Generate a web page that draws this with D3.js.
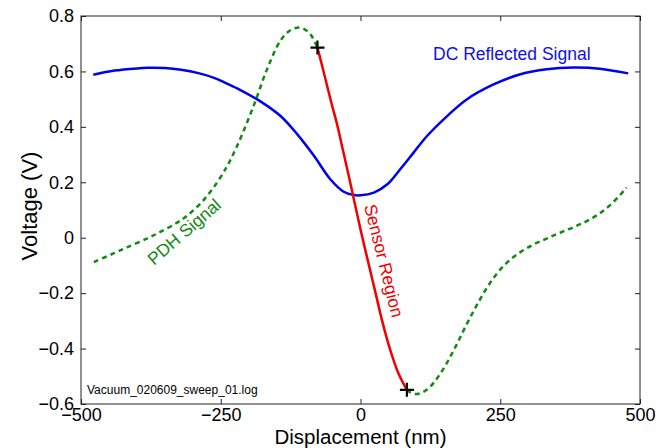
<!DOCTYPE html>
<html>
<head>
<meta charset="utf-8">
<script src="https://cdn.jsdelivr.net/npm/d3@7"></script>
<style>
  body { margin: 0; background: #fff; }
  text { font-family: "Liberation Sans", Arial, Helvetica, sans-serif; }
</style>
</head>
<body>
<script>
// DC reflected signal (blue)
var dcX = [-478, -440, -400, -381, -350, -321, -290, -262, -240, -214, -179, -143, -113, -83, -54, -30, -12, 0, 24, 48, 71, 95, 119, 155, 190, 238, 286, 333, 381, 428, 479];
var dcV = [0.588, 0.603, 0.611, 0.613, 0.612, 0.606, 0.594, 0.577, 0.557, 0.532, 0.492, 0.439, 0.373, 0.295, 0.211, 0.166, 0.154, 0.153, 0.163, 0.193, 0.247, 0.307, 0.367, 0.439, 0.499, 0.553, 0.590, 0.608, 0.614, 0.610, 0.593];

// PDH signal, left of sensor region (green dashed)
var pdhLeftX = [-477, -440, -418, -381, -359, -330, -310, -282, -257, -239, -228, -214, -190, -167, -143, -128, -113, -100, -89, -77];
var pdhLeftV = [-0.088, -0.055, -0.035, -0.002, 0.020, 0.052, 0.080, 0.133, 0.198, 0.257, 0.300, 0.362, 0.482, 0.609, 0.712, 0.745, 0.758, 0.752, 0.732, 0.686];

// sensor region (red)
var sensorX = [-77, -68, -60, -51, -42, -33, -24, -12, 0, 14, 27, 40, 54, 68, 83];
var sensorV = [0.686, 0.615, 0.550, 0.478, 0.410, 0.330, 0.250, 0.140, 0.030, -0.090, -0.200, -0.310, -0.410, -0.490, -0.549];

// PDH signal, right of sensor region (green dashed)
var pdhRightX = [83, 89, 101, 119, 143, 167, 190, 214, 238, 262, 286, 309, 333, 357, 381, 405, 428, 452, 476];
var pdhRightV = [-0.549, -0.558, -0.564, -0.548, -0.490, -0.405, -0.312, -0.222, -0.145, -0.090, -0.052, -0.025, -0.003, 0.018, 0.038, 0.060, 0.088, 0.128, 0.181];

var xTicks = [-500, -250, 0, 250, 500];
var yTicks = [-0.6, -0.4, -0.2, 0, 0.2, 0.4, 0.6, 0.8];

var width = 669, height = 448;
var margin = {top: 16, right: 29, bottom: 44, left: 81};
var w = width - margin.left - margin.right;
var h = height - margin.top - margin.bottom;

var svg = d3.select("body").append("svg")
  .attr("width", width)
  .attr("height", height);

var g = svg.append("g").attr("transform", "translate(" + margin.left + "," + margin.top + ")");

var x = d3.scaleLinear().domain([-500, 500]).range([0, w]);
var y = d3.scaleLinear().domain([-0.6, 0.8]).range([h, 0]);

function pts(xs, vs) { return xs.map(function(d, i) { return [d, vs[i]]; }); }

var line = d3.line()
  .x(function(d) { return x(d[0]); })
  .y(function(d) { return y(d[1]); })
  .curve(d3.curveCatmullRom.alpha(0.5));

// axes with inward ticks
var fmtY = function(d) { return d === 0 ? "0" : d3.format(".1f")(d); };

g.append("g").attr("class", "xaxis")
  .attr("transform", "translate(0," + h + ")")
  .call(d3.axisBottom(x).tickValues(xTicks).tickFormat(d3.format("d")).tickSizeInner(-5).tickSizeOuter(0).tickPadding(4));
g.append("g").attr("class", "xaxis")
  .call(d3.axisTop(x).tickValues(xTicks).tickFormat("").tickSizeInner(-5).tickSizeOuter(0));
g.append("g").attr("class", "yaxis")
  .call(d3.axisLeft(y).tickValues(yTicks).tickFormat(fmtY).tickSizeInner(-5).tickSizeOuter(0).tickPadding(7));
g.append("g").attr("class", "yaxis")
  .attr("transform", "translate(" + w + ",0)")
  .call(d3.axisRight(y).tickValues(yTicks).tickFormat("").tickSizeInner(-5).tickSizeOuter(0));

g.selectAll(".domain").remove();
g.selectAll(".tick line").attr("stroke", "#222");
g.selectAll(".tick text").attr("font-size", "18px").attr("fill", "#000");
g.selectAll(".xaxis .tick text").attr("dy", "0.72em");

g.append("rect")
  .attr("width", w).attr("height", h)
  .attr("fill", "none").attr("stroke", "#222").attr("stroke-width", 1);

// curves
g.append("path").datum(pts(dcX, dcV))
  .attr("d", line).attr("fill", "none").attr("stroke", "#0000f0").attr("stroke-width", 2.5);

[pts(pdhLeftX, pdhLeftV), pts(pdhRightX, pdhRightV)].forEach(function(seg) {
  g.append("path").datum(seg)
    .attr("d", line).attr("fill", "none").attr("stroke", "#118a11")
    .attr("stroke-width", 2.5).attr("stroke-dasharray", "5,4");
});

g.append("path").datum(pts(sensorX, sensorV))
  .attr("d", line).attr("fill", "none").attr("stroke", "#f00000").attr("stroke-width", 2.5);

// + markers at sensor region ends
var ends = [[sensorX[0], sensorV[0]], [sensorX[sensorX.length - 1], sensorV[sensorV.length - 1]]];
g.selectAll(".mark").data(ends).enter().append("path")
  .attr("class", "mark")
  .attr("transform", function(d) { return "translate(" + x(d[0]) + "," + y(d[1]) + ")"; })
  .attr("d", "M-7,0H7M0,-7V7")
  .attr("stroke", "#000").attr("stroke-width", 2.2);

// annotations
svg.append("text").attr("x", 433).attr("y", 60)
  .attr("font-size", "17.5px").attr("fill", "#1010e8").text("DC Reflected Signal");

svg.append("text").attr("transform", "translate(154,266) rotate(-41)")
  .attr("font-size", "17.5px").attr("fill", "#118a11").text("PDH Signal");

svg.append("text").attr("transform", "translate(364,206) rotate(76)")
  .attr("font-size", "17.5px").attr("fill", "#f00000").text("Sensor Region");

svg.append("text").attr("x", 87).attr("y", 394)
  .attr("font-size", "12px").attr("fill", "#000").text("Vacuum_020609_sweep_01.log");

// axis titles
svg.append("text").attr("x", margin.left + w / 2).attr("y", 443.5)
  .attr("text-anchor", "middle").attr("font-size", "20.5px").attr("fill", "#000")
  .text("Displacement (nm)");

svg.append("text").attr("transform", "translate(37," + (margin.top + h / 2 - 4) + ") rotate(-90)")
  .attr("text-anchor", "middle").attr("font-size", "22px").attr("fill", "#000")
  .text("Voltage (V)");
</script>
</body>
</html>
